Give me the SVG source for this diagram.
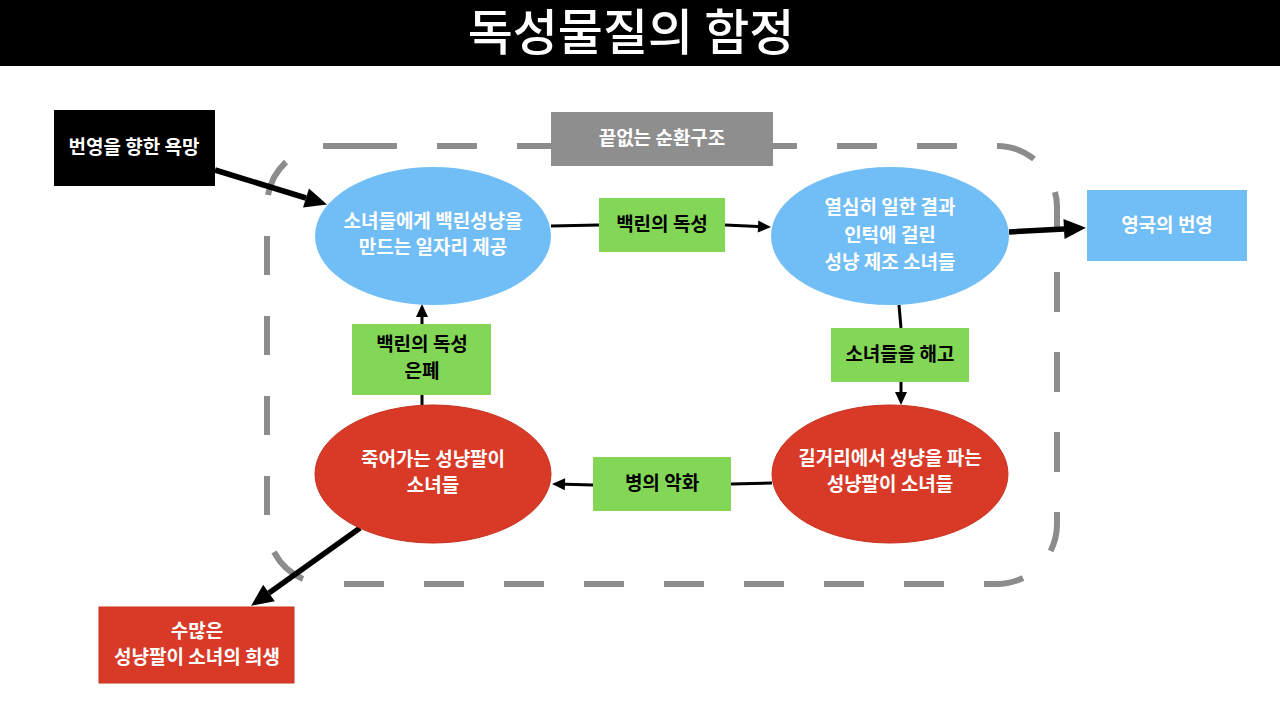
<svg xmlns="http://www.w3.org/2000/svg" width="1280" height="720" viewBox="0 0 1280 720">
<style>
  text { font-family: "Noto Sans CJK KR", "Noto Sans", sans-serif; font-size: 19px; font-weight: 600; text-anchor: middle; }
  .w { fill: #ffffff; }
  .k { fill: #000000; }
  .blue { fill: #71bdf6; }
  .red { fill: #d83a27; stroke: #c8321f; stroke-width: 1; }
  .green { fill: #83d656; }
  .thin { stroke: #000; stroke-width: 3; fill: none; }
  .thick { stroke: #000; stroke-width: 5.5; fill: none; }
  .dash { stroke: #8c8c8c; stroke-width: 6; fill: none; }
</style>
<defs>
  <marker id="ah" markerUnits="userSpaceOnUse" markerWidth="14" markerHeight="14" refX="0" refY="6" orient="auto" overflow="visible">
    <path d="M0,0 L13,6 L0,12 z" fill="#000"/>
  </marker>
  <marker id="ahb" markerUnits="userSpaceOnUse" markerWidth="24" markerHeight="22" refX="0" refY="10" orient="auto" overflow="visible">
    <path d="M0,0 L22,10 L0,20 z" fill="#000"/>
  </marker>
</defs>

<g id="title">
  <rect x="0" y="0" width="1280" height="66" fill="#000"/>
  <text x="631" y="50" class="w" style="font-size:49px;font-weight:500">독성물질의 함정</text>
</g>

<g id="cycle-frame">
  <path class="dash" d="M323 146H397 M437 146H477 M517 146H557 M597 146H637 M677 146H717 M757 146H797 M837 146H877 M917 146H957 M997 146A60 60 0 0 1 1034 159 M1055 192A60 60 0 0 1 1057 206V232 M1057 272V312 M1057 352V392 M1057 432V472 M1057 512V524A60 60 0 0 1 1050.6 551 M1023 578A60 60 0 0 1 997 584H984 M944 584H904 M864 584H824 M784 584H744 M704 584H664 M624 584H584 M544 584H504 M464 584H424 M384 584H344 M303 579A60 60 0 0 1 274 552 M267 515V476 M267 435V396 M267 355V316 M267 275V236 M268 195A60 60 0 0 1 286 162"/>
</g>

<g id="connectors">
  <line class="thick" x1="215" y1="170" x2="306" y2="198" marker-end="url(#ahb)"/>
  <line class="thin" x1="551" y1="226" x2="599" y2="225"/>
  <line class="thin" x1="725" y1="225" x2="758" y2="226.5" marker-end="url(#ah)"/>
  <line class="thick" x1="1009" y1="232" x2="1064" y2="229" marker-end="url(#ahb)"/>
  <line class="thin" x1="899" y1="305" x2="901" y2="328"/>
  <line class="thin" x1="901" y1="382" x2="901" y2="392" marker-end="url(#ah)"/>
  <line class="thin" x1="772" y1="483" x2="731" y2="484"/>
  <line class="thin" x1="593" y1="485" x2="565" y2="484.3" marker-end="url(#ah)"/>
  <line class="thin" x1="422" y1="405" x2="422" y2="395"/>
  <line class="thin" x1="422" y1="324" x2="422" y2="317" marker-end="url(#ah)"/>
  <line class="thick" x1="360" y1="528" x2="269" y2="593" marker-end="url(#ahb)"/>
</g>

<g id="desire">
  <rect x="54" y="110" width="161" height="76" fill="#000"/>
  <text x="134" y="154" class="w">번영을 향한 욕망</text>
</g>

<g id="cycle-label">
  <rect x="551" y="112" width="222" height="54" fill="#8e8e8e"/>
  <text x="662" y="145" class="w">끝없는 순환구조</text>
</g>

<g id="jobs">
  <ellipse cx="433" cy="236" rx="118" ry="69" class="blue"/>
  <text x="433" y="228" class="w">소녀들에게 백린성냥을</text>
  <text x="433" y="254" class="w">만드는 일자리 제공</text>
</g>

<g id="toxicity">
  <rect x="599" y="198" width="126" height="54" class="green"/>
  <text x="662" y="231" class="k">백린의 독성</text>
</g>

<g id="sick-workers">
  <ellipse cx="890" cy="236" rx="119" ry="69" class="blue"/>
  <text x="890" y="214" class="w">열심히 일한 결과</text>
  <text x="890" y="242" class="w">인턱에 걸린</text>
  <text x="890" y="269" class="w">성냥 제조 소녀들</text>
</g>

<g id="prosperity">
  <rect x="1087" y="190" width="160" height="71" class="blue"/>
  <text x="1167" y="232" class="w">영국의 번영</text>
</g>

<g id="fired">
  <rect x="831" y="328" width="138" height="54" class="green"/>
  <text x="900" y="361" class="k">소녀들을 해고</text>
</g>

<g id="street-sellers">
  <ellipse cx="890" cy="474" rx="118" ry="69" class="red"/>
  <text x="890" y="465" class="w">길거리에서 성냥을 파는</text>
  <text x="890" y="491" class="w">성냥팔이 소녀들</text>
</g>

<g id="worsening">
  <rect x="593" y="457" width="138" height="54" class="green"/>
  <text x="662" y="490" class="k">병의 악화</text>
</g>

<g id="dying">
  <ellipse cx="433" cy="474" rx="118" ry="69" class="red"/>
  <text x="433" y="466" class="w">죽어가는 성냥팔이</text>
  <text x="433" y="492" class="w">소녀들</text>
</g>

<g id="concealment">
  <rect x="352" y="324" width="139" height="71" class="green"/>
  <text x="422" y="351" class="k">백린의 독성</text>
  <text x="422" y="378" class="k">은폐</text>
</g>

<g id="sacrifice">
  <rect x="99" y="607" width="195" height="76" class="red"/>
  <text x="197" y="638" class="w">수많은</text>
  <text x="197" y="664" class="w">성냥팔이 소녀의 희생</text>
</g>
</svg>
